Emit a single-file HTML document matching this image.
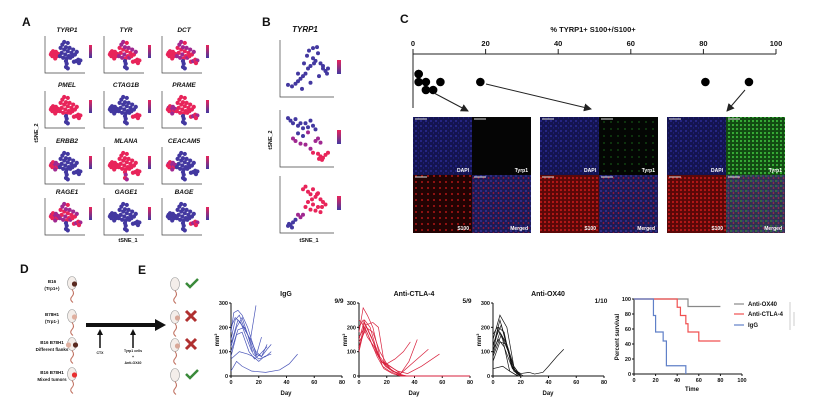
<!DOCTYPE html>
<html><head><meta charset="utf-8"><style>
body{margin:0;background:#fff}
svg{display:block;font-family:"Liberation Sans",sans-serif}
</style></head><body>
<svg id="s" width="831" height="410" viewBox="0 0 831 410">
<defs>
<pattern id="pBlue" width="5" height="5" patternUnits="userSpaceOnUse"><rect width="5" height="5" fill="#141450"/><circle cx="1" cy="1" r="0.9" fill="#3030a8"/><circle cx="3.5" cy="3" r="0.7" fill="#2424 90"/><circle cx="3.5" cy="3" r="0.7" fill="#242490"/></pattern>
<pattern id="pRed" width="6" height="6" patternUnits="userSpaceOnUse"><rect width="6" height="6" fill="#220303"/><circle cx="2" cy="2" r="1" fill="#b01515"/></pattern>
<pattern id="pRed2" width="4" height="4" patternUnits="userSpaceOnUse"><rect width="4" height="4" fill="#5a0808"/><circle cx="1" cy="2" r="1.1" fill="#b81818"/></pattern>
<pattern id="pMerge" width="5" height="5" patternUnits="userSpaceOnUse"><rect width="5" height="5" fill="#1c1a55"/><circle cx="1" cy="1" r="0.9" fill="#3838a8"/><circle cx="3.5" cy="3" r="0.9" fill="#a01838"/></pattern>
<pattern id="pMerge3" width="5" height="5" patternUnits="userSpaceOnUse"><rect width="5" height="5" fill="#303050"/><circle cx="1" cy="1" r="0.9" fill="#389038"/><circle cx="3.5" cy="3" r="0.9" fill="#a02850"/><circle cx="3" cy="1" r="0.6" fill="#5050b0"/></pattern>
<pattern id="pGreenS" width="7" height="7" patternUnits="userSpaceOnUse"><rect width="7" height="7" fill="#040604"/><circle cx="2" cy="3" r="0.6" fill="#28a028"/></pattern>
<pattern id="pGreen" width="4" height="4" patternUnits="userSpaceOnUse"><rect width="4" height="4" fill="#124a12"/><circle cx="1" cy="1" r="1.1" fill="#38b038"/></pattern>
<marker id="ah" markerWidth="8" markerHeight="8" refX="7" refY="4" orient="auto"><path d="M0,0 L8,4 L0,8 z" fill="#222"/></marker>
</defs>
<g id="A"></g><g id="B"></g><g id="C"></g><g id="D"></g><g id="E"></g>
</svg>
<script>
// ---------- data ----------
const genes=["TYRP1","TYR","DCT","PMEL","CTAG1B","PRAME","ERBB2","MLANA","CEACAM5","RAGE1","GAGE1","BAGE"];
const geneExpr=[["h","l","l","l"],["h","m","l","h"],["h","m","l","m"],["h","h","l","h"],["l","l","l","h"],["m","h","l","m"],["m","l","l","l"],["h","h","m","h"],["m","l","l","l"],["m","m","l","m"],["l","l","l","l"],["l","l","l","m"]];
const tsneU=[0.1,0.14,0.18,0.12,0.22,0.25,0.2,0.08,0.28,0.35,0.4,0.45,0.5,0.55,0.6,0.65,0.7,0.58,0.48,0.38,0.42,0.52,0.62,0.75,0.8,0.68,0.45,0.55,0.33,0.5,0.52,0.5,0.55,0.72,0.78,0.84,0.9,0.86];
const tsneV=[0.45,0.4,0.5,0.55,0.42,0.55,0.62,0.5,0.48,0.3,0.2,0.35,0.28,0.4,0.3,0.45,0.35,0.55,0.5,0.45,0.6,0.62,0.6,0.5,0.42,0.55,0.12,0.15,0.55,0.7,0.78,0.88,0.92,0.72,0.7,0.66,0.68,0.76];
const tsneRegion="LLLLLLLLLCCCCCCCCCCCCCCCCCCCCSSSSRRRRR";
const b1U=[0.1,0.18,0.25,0.3,0.35,0.4,0.45,0.5,0.55,0.6,0.65,0.7,0.75,0.8,0.85,0.9,0.42,0.48,0.52,0.6,0.68,0.3,0.38,0.55,0.72,0.8,0.88,0.62];
const b1V=[0.82,0.85,0.8,0.75,0.7,0.65,0.6,0.5,0.45,0.3,0.35,0.2,0.4,0.5,0.55,0.5,0.4,0.25,0.15,0.1,0.08,0.6,0.9,0.78,0.65,0.45,0.6,0.4];
const b2U=[0.1,0.15,0.2,0.25,0.3,0.35,0.4,0.45,0.5,0.55,0.6,0.65,0.3,0.4,0.5,0.2,0.25,0.35,0.45,0.55,0.65,0.7,0.75,0.6,0.7,0.75,0.8,0.85,0.9,0.72,0.78];
const b2V=[0.1,0.15,0.2,0.12,0.25,0.2,0.3,0.2,0.28,0.15,0.25,0.32,0.4,0.45,0.38,0.5,0.55,0.6,0.62,0.7,0.55,0.5,0.58,0.78,0.8,0.85,0.88,0.82,0.78,0.9,0.92];
const b2C="bbbbbbbbbbbbbbmmmmmmmmmrrrrrrrr";
const b3U=[0.4,0.45,0.5,0.55,0.6,0.65,0.7,0.75,0.8,0.5,0.6,0.7,0.55,0.65,0.75,0.45,0.58,0.68,0.78,0.85,0.4,0.35,0.3,0.25,0.2,0.15,0.1,0.18,0.12];
const b3V=[0.2,0.15,0.25,0.3,0.2,0.35,0.28,0.4,0.45,0.45,0.5,0.55,0.6,0.62,0.65,0.55,0.4,0.3,0.55,0.5,0.7,0.75,0.7,0.8,0.85,0.9,0.92,0.95,0.88];
const b3C="rrrrrrrrrrrrrrrrrrrrmmmbbbbbb";
const cTicks=[0,20,40,60,80,100];
const cDots=[1,1,3,1,3,5,7,18,80,92];
const cDotRow=[0,1,2,0,1,2,1,1,1,1];
const dayTicks=[0,20,40,60,80];
const mmTicks=[0,100,200,300];
const igDays=[[0,2,5,8,12,18,22,26,29],[0,3,6,10,14,18],[0,4,8,12,16,20,25,29],[0,5,10,14,18,22],[0,4,8,13,17,21,26],[0,6,12,16,20,24,29],[0,4,8,15,25,35,42,48],[0,3,7,11,15],[0,5,9,14,18,22,26]];
const igVals=[[180,260,270,250,200,90,80,110,130],[150,230,250,190,150,290],[120,200,240,170,90,70,80,100],[100,190,200,140,80,160],[80,170,180,100,70,90,120],[70,100,90,80,60,80,90],[20,60,40,20,15,25,50,90],[200,240,220,160,100],[130,230,200,150,100,80,130]];
const ctDays=[[0,3,6,10,15,20,25,30,80],[0,4,8,12,16,20,26,32,37],[0,5,10,15,20,25,30,36,42],[0,3,7,12,17,22,28,34,80],[0,4,9,14,19,24,30,40,50],[0,5,10,16,22,28,35,45,58],[0,2,6,11,16,22,28,34,80],[0,4,8,13,18,24,30,80],[0,5,10,14,18,24,30,35,80]];
const ctVals=[[180,280,250,200,80,40,20,0,0],[150,230,200,120,60,50,70,100,140],[120,200,180,100,50,30,10,60,150],[200,230,180,120,40,20,5,0,0],[110,220,160,80,40,20,10,60,110],[140,190,120,60,40,20,10,40,90],[230,220,160,120,60,30,10,0,0],[100,200,150,80,30,10,0,0],[160,210,220,200,60,20,5,0,0]];
const oxDays=[[0,5,10,15,20,80],[0,5,9,14,20,80],[0,4,8,13,18,80],[0,6,10,15,20,80],[0,5,9,14,19,80],[0,3,7,12,18,80],[0,5,10,15,20,80],[0,7,12,18,80],[0,4,8,14,20,26,30,36,40,46,51],[0,6,11,16,22,80]];
const oxVals=[[150,250,200,40,0,0],[120,230,150,30,0,0],[100,200,180,50,0,0],[130,210,120,20,0,0],[90,180,140,40,0,0],[170,200,150,20,0,0],[60,140,130,40,0,0],[30,40,20,0,0],[110,150,120,30,10,15,8,15,40,80,110],[80,170,100,20,0,0]];
const survTicksX=[0,20,40,60,80,100];
const survTicksY=[0,20,40,60,80,100];
const oxT=[0,50,80], oxS=[100,90,90];
const ctT=[0,40,43,48,50,60,80], ctS=[100,89,78,67,56,44,44];
const igT=[0,18,20,27,30,48], igS=[100,78,56,44,11,0];

// ---------- helpers ----------
const NS="http://www.w3.org/2000/svg";
function mk(tag,attrs,parent,name){const e=document.createElementNS(NS,tag);for(const k in attrs)e.setAttribute(k,attrs[k]);


parent.appendChild(e);return e;}
function txt(x,y,s,parent,name,opt){opt=opt||{};const e=mk('text',{x:x,y:y,'font-size':opt.fs||7,'text-anchor':opt.a||'middle','font-weight':opt.w||'bold','font-style':opt.i?'italic':'normal',fill:opt.c||'#111'},parent,name);
if(opt.rot)e.setAttribute('transform','rotate(-90 '+x+' '+y+')');e.textContent=s;return e;}
const PINK="#e8245a",BLUE="#4338a0",MAG="#a02890";

// ---------- A ----------
const gA=document.getElementById('A');
txt(22,26,"A",gA,"panel-a-label",{fs:12,a:'start'});
const colX=[45,104,162], rowT=[36,91,147,198];
genes.forEach((g,i)=>{const c=i%3,r=Math.floor(i/3);const x0=colX[c],y0=rowT[r],w=40,h=37;
 const grp=mk('g',{},gA,'tsne-plot-'+g.toLowerCase());
 txt(x0+22,y0-4,g,grp,'tsne-title',{fs:6.5,i:true});
 mk('path',{d:`M${x0} ${y0} V${y0+h} H${x0+w}`,stroke:'#444','stroke-width':0.7,fill:'none'},grp,'tsne-axes');
 tsneU.forEach((u,k)=>{const reg="LCSR".indexOf(tsneRegion[k]);let e=geneExpr[i][reg];let col=e==='h'?PINK:e==='l'?BLUE:(k%2?PINK:MAG);
  mk('circle',{cx:x0+3+u*(w-4),cy:y0+2+tsneV[k]*(h-4),r:2.1,fill:col},grp,'tsne-cell');});
 const cb=mk('linearGradient',{id:'cbA'+i,x1:0,y1:0,x2:0,y2:1},grp,'colorbar-gradient');
 mk('stop',{offset:0,'stop-color':PINK},cb,'stop');mk('stop',{offset:1,'stop-color':BLUE},cb,'stop');
 mk('rect',{x:x0+44,y:y0+9,width:3,height:13,fill:`url(#cbA${i})`},grp,'colorbar');
});
txt(38,133,"tSNE_2",gA,"y-axis-title",{fs:5.5,rot:true});
txt(128,242,"tSNE_1",gA,"x-axis-title",{fs:5.5});

// ---------- B ----------
const gB=document.getElementById('B');
txt(262,26,"B",gB,"panel-b-label",{fs:12,a:'start'});
txt(305,32,"TYRP1",gB,"panel-b-title",{fs:8,i:true});
const bTops=[40,110,176];
[[b1U,b1V,null],[b2U,b2V,b2C],[b3U,b3V,b3C]].forEach((d,j)=>{const x0=280,y0=bTops[j],w=54,h=57;
 const grp=mk('g',{},gB,'tyrp1-tsne-'+(j+1));
 mk('path',{d:`M${x0} ${y0} V${y0+h} H${x0+w}`,stroke:'#444','stroke-width':0.7,fill:'none'},grp,'tsne-axes');
 d[0].forEach((u,k)=>{const cc=d[2]?d[2][k]:'b';const col=cc==='r'?PINK:cc==='m'?MAG:BLUE;
  mk('circle',{cx:x0+3+u*(w-4),cy:y0+3+d[1][k]*(h-6),r:2,fill:col},grp,'tsne-cell');});
 const cb=mk('linearGradient',{id:'cbB'+j,x1:0,y1:0,x2:0,y2:1},grp,'colorbar-gradient');
 mk('stop',{offset:0,'stop-color':PINK},cb,'stop');mk('stop',{offset:1,'stop-color':BLUE},cb,'stop');
 mk('rect',{x:x0+57,y:y0+20,width:4,height:14,fill:`url(#cbB${j})`},grp,'colorbar');
});
txt(272,140,"tSNE_2",gB,"y-axis-title",{fs:5.5,rot:true});
txt(309,242,"tSNE_1",gB,"x-axis-title",{fs:5.5});

// ---------- C ----------
const gC=document.getElementById('C');
txt(400,23,"C",gC,"panel-c-label",{fs:12,a:'start'});
txt(593,32,"% TYRP1+ S100+/S100+",gC,"c-axis-title",{fs:7.5});
const cx=v=>413+v*3.63;
mk('line',{x1:cx(0),y1:54,x2:cx(100),y2:54,stroke:'#222','stroke-width':1},gC,'c-axis-line');
mk('line',{x1:cx(0),y1:54,x2:cx(0),y2:108,stroke:'#222','stroke-width':1},gC,'c-axis-vertical');
cTicks.forEach(t=>{mk('line',{x1:cx(t),y1:49,x2:cx(t),y2:54,stroke:'#222'},gC,'c-tick');txt(cx(t),46,String(t),gC,'c-tick-label',{fs:7.5});});
cDots.forEach((v,k)=>mk('circle',{cx:cx(v)+2,cy:74+cDotRow[k]*8,r:4.3,fill:'#000'},gC,'c-sample-dot'));
mk('line',{x1:434,y1:93,x2:468,y2:111,stroke:'#222','stroke-width':1,'marker-end':'url(#ah)'},gC,'arrow-1');
mk('line',{x1:486,y1:84,x2:591,y2:109,stroke:'#222','stroke-width':1,'marker-end':'url(#ah)'},gC,'arrow-2');
mk('line',{x1:745,y1:90,x2:727,y2:111,stroke:'#222','stroke-width':1,'marker-end':'url(#ah)'},gC,'arrow-3');
const imgs=[[413,'url(#pBlue)','#050505','url(#pRed)','url(#pMerge)'],[540,'url(#pBlue)','url(#pGreenS)','url(#pRed2)','url(#pMerge)'],[667,'url(#pBlue)','url(#pGreen)','url(#pRed2)','url(#pMerge3)']];
const labs=["DAPI","Tyrp1","S100","Merged"];
imgs.forEach((im,j)=>{const grp=mk('g',{},gC,'micrograph-panel-'+(j+1));
 for(let q=0;q<4;q++){const x=im[0]+(q%2)*59,y=117+Math.floor(q/2)*58;
  mk('rect',{x:x,y:y,width:59,height:58,fill:im[q+1]},grp,'micrograph-'+labs[q].toLowerCase());
  mk('line',{x1:x+2,y1:y+2,x2:x+14,y2:y+2,stroke:'#ddd','stroke-width':1},grp,'scale-bar');
  txt(x+56,y+55,labs[q],grp,'channel-label',{fs:5,a:'end',c:'#fff'});}
});

// ---------- D ----------
const gD=document.getElementById('D');
txt(20,273,"D",gD,"panel-d-label",{fs:12,a:'start'});
const dRows=[[283,"B16","(Trp1+)",'#5a2a20'],[316,"B78H1","(Trp1-)",'#e0b0a0'],[344,"B16 B78H1","Different flanks",'#5a2a20'],[374,"B16 B78H1","Mixed tumors",'#e83030']];
const res=[1,0,0,1];
function mouse(x,y,tum,parent,name){const g=mk('g',{},parent,name);
 mk('ellipse',{cx:x,cy:y,rx:4.5,ry:6.5,fill:'#f4eeea',stroke:'#999','stroke-width':0.6},g,'mouse-body');
 mk('path',{d:`M${x} ${y+6.5} q3 4 0 7 q-3 3 1 6`,stroke:'#c07060',fill:'none','stroke-width':1},g,'mouse-tail');
 if(tum)mk('circle',{cx:x+2.5,cy:y+1,r:2.6,fill:tum},g,'tumor');}
dRows.forEach((r,k)=>{txt(52,r[0],r[1],gD,'group-label',{fs:4.5});txt(52,r[0]+7,r[2],gD,'group-label',{fs:4.5});
 mouse(72,r[0],k===2?null:r[3],gD,'mouse-left');
 if(k===2){mk('circle',{cx:68.5,cy:r[0]+1,r:2.6,fill:'#e0b0a0'},gD,'tumor');mk('circle',{cx:75.5,cy:r[0]+1,r:2.6,fill:'#5a2a20'},gD,'tumor');}
 mouse(175,r[0]+1,k===1||k===2?'#d8a898':null,gD,'mouse-right');
 if(res[k])mk('path',{d:`M186 ${r[0]} l4 4 l8 -8`,stroke:'#3a8a3a','stroke-width':2.5,fill:'none'},gD,'check-mark');
 else mk('path',{d:`M186 ${r[0]-5} l10 10 M196 ${r[0]-5} l-10 10`,stroke:'#b03030','stroke-width':3,fill:'none'},gD,'cross-mark');
});
mk('rect',{x:86,y:323,width:70,height:4,fill:'#111'},gD,'timeline-arrow');
mk('path',{d:'M155 319 L166 325 L155 331 z',fill:'#111'},gD,'timeline-arrowhead');
[100,133].forEach(x=>{mk('line',{x1:x,y1:348,x2:x,y2:333,stroke:'#111','stroke-width':1.5},gD,'treatment-arrow');mk('path',{d:`M${x-3} 335 L${x} 329 L${x+3} 335z`,fill:'#111'},gD,'treatment-arrowhead');});
txt(100,354,"CTX",gD,'treatment-label',{fs:3.5});
txt(133,352,"Tyrp1 cells",gD,'treatment-label',{fs:3.5});txt(133,358,"+",gD,'treatment-label',{fs:3.5});txt(133,364,"Anti-OX40",gD,'treatment-label',{fs:3.5});

// ---------- E ----------
const gE=document.getElementById('E');
txt(138,274,"E",gE,"panel-e-label",{fs:12,a:'start'});
function growth(x0,title,frac,days,vals,col,name){const g=mk('g',{},gE,name);const w=111,yT=303,yB=376;
 const X=d=>x0+d/80*w, Y=v=>yB-v/300*(yB-yT);
 txt(x0+55,296,title,g,'chart-title',{fs:7});txt(x0+108,303,frac,g,'fraction-label',{fs:6.5});
 mk('path',{d:`M${x0} ${yT} V${yB} H${x0+w}`,stroke:'#111','stroke-width':1,fill:'none'},g,'axes');
 dayTicks.forEach(t=>{mk('line',{x1:X(t),y1:yB,x2:X(t),y2:yB+2,stroke:'#111'},g,'x-tick');txt(X(t),384,String(t),g,'x-tick-label',{fs:5.5});});
 mmTicks.forEach(t=>{mk('line',{x1:x0-2,y1:Y(t),x2:x0,y2:Y(t),stroke:'#111'},g,'y-tick');txt(x0-3,Y(t)+2,String(t),g,'y-tick-label',{fs:5.5,a:'end'});});
 txt(x0+55,395,"Day",g,'x-axis-title',{fs:6});
 txt(x0-12,340,"mm²",g,'y-axis-title',{fs:6,rot:true});
 days.forEach((ds,k)=>mk('polyline',{points:ds.map((d,i)=>X(d)+','+Y(vals[k][i])).join(' '),fill:'none',stroke:col,'stroke-width':0.7},g,'tumor-growth-line'));}
growth(231,"IgG","9/9",igDays,igVals,'#4a55b8','igg-growth-chart');
growth(359,"Anti-CTLA-4","5/9",ctDays,ctVals,'#d8203c','ctla4-growth-chart');
growth(493,"Anti-OX40","1/10",oxDays,oxVals,'#111','ox40-growth-chart');
const gS=mk('g',{},gE,'survival-chart');
const SX=t=>634+t/100*108, SY=v=>374-v/100*75;
mk('path',{d:`M634 299 V374 H742`,stroke:'#111','stroke-width':1,fill:'none'},gS,'axes');
survTicksX.forEach(t=>{mk('line',{x1:SX(t),y1:374,x2:SX(t),y2:376,stroke:'#111'},gS,'x-tick');txt(SX(t),382,String(t),gS,'x-tick-label',{fs:5.5});});
survTicksY.forEach(t=>{mk('line',{x1:632,y1:SY(t),x2:634,y2:SY(t),stroke:'#111'},gS,'y-tick');txt(631,SY(t)+2,String(t),gS,'y-tick-label',{fs:5.5,a:'end'});});
txt(692,391,"Time",gS,'x-axis-title',{fs:6});
txt(619,337,"Percent survival",gS,'y-axis-title',{fs:6,rot:true});
function step(T,S,col,name){let d=`M${SX(T[0])} ${SY(S[0])}`;for(let i=1;i<T.length;i++)d+=` H${SX(T[i])} V${SY(S[i])}`;
 mk('path',{d:d,fill:'none',stroke:col,'stroke-width':1.2},gS,name);}
step(oxT,oxS,'#888','survival-ox40');step(ctT,ctS,'#f05050','survival-ctla4');step(igT,igS,'#6080c8','survival-igg');
[["Anti-OX40",'#888',304],["Anti-CTLA-4",'#f05050',314],["IgG",'#6080c8',325]].forEach(l=>{const g=mk('g',{},gS,'legend-entry');
 mk('line',{x1:734,y1:l[2],x2:744,y2:l[2],stroke:l[1],'stroke-width':1.2},g,'legend-line');
 txt(748,l[2]+2,l[0],g,'legend-text',{fs:6,a:'start'});});
mk('path',{d:'M790 302 V330 M794 312 V326',stroke:'#999','stroke-width':0.5,fill:'none'},gS,'significance-brackets');
</script>
</body></html>
